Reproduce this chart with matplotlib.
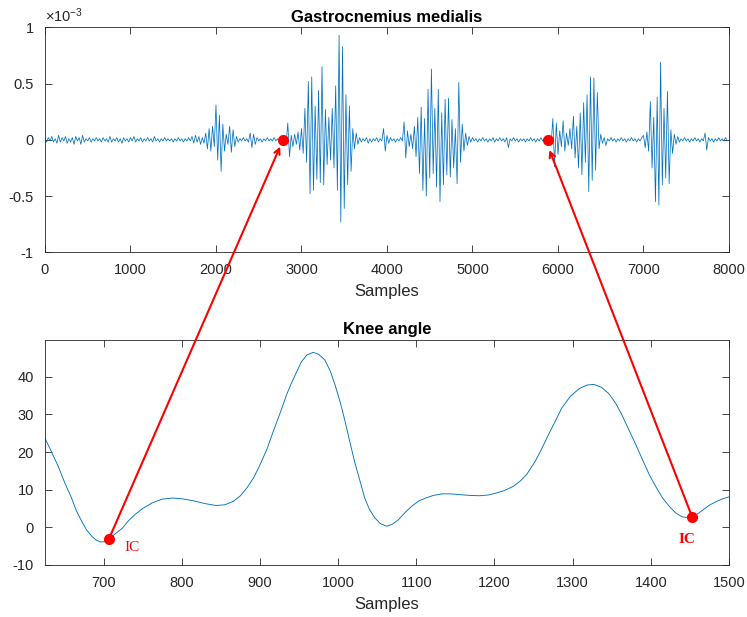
import numpy as np
import matplotlib.pyplot as plt
from matplotlib.patches import ConnectionPatch

plt.rcParams['font.family'] = ['Liberation Sans', 'DejaVu Sans']
plt.rcParams['axes.unicode_minus'] = False
plt.rcParams['mathtext.default'] = 'regular'

# EMG (gastrocnemius medialis), one value every 20 samples, units of 1e-5
emg_step = 20
emg_vals = [
    1, -2, 2, -1, 3, -2, 1, -3, 4, -2, 2, -1, 3, -3, 1, -2, 2, -4, 3, -1,
    2, -4, 4, -2, 1, -1, 2, -2, 1, -1, 2, -1, 1, -2, 2, -1, 1, -2, 3, -2,
    1, -1, 2, -2, 1, -3, 2, -1, 1, -2, 2, -1, 3, -2, 1, -1, 2, -2, 1, -1,
    2, -1, 1, -2, 3, -1, 1, -2, 1, -1, 2, -1, 1, -1, 1, -2, 1, -1, 2, -1,
    1, -2, 1, -1, 2, -1, 3, -3, 4, -2, 3, -4, 2, -3, 6, -8, 10, -10, 12, -6,
    31, -18, 22, -28, 14, -10, 5, -4, 12, -11, 9, -6, 3, -2, 1, -1, 2, -1, 1, -2,
    6, -7, 5, -4, 2, -1, 1, -2, 1, -1, 2, -1, 1, -1, 2, -1, 1, -2, 1, -1,
    3, -4, 15, -15, 4, -6, 5, -4, 7, -9, 10, -12, 28, -20, 52, -48, 56, -45, 30, -35,
    44, -38, 65, -40, 27, -22, 20, -18, 28, -25, 48, -45, 93, -73, 83, -61, 40, -40, 30, -28,
    10, -8, 6, -4, 2, -2, 1, -1, 2, -3, 1, -2, 1, -1, 2, -2, 1, -1, 10, -10,
    4, -3, 2, -1, 1, -2, 1, -1, 2, -1, 16, -16, 8, -6, 5, -8, 12, -15, 20, -30,
    29, -45, 19, -50, 45, -34, 63, -30, 28, -42, 45, -55, 24, -40, 36, -31, 37, -33, 18, -25,
    10, -39, 51, -20, 14, -10, 6, -5, 3, -2, 2, -1, 1, -2, 1, -1, 2, -1, 1, -2,
    1, -1, 2, -2, 1, -1, 2, -1, 1, -2, 2, -7, 1, -1, 2, -1, 1, -2, 1, -1,
    1, -2, 1, -1, 2, -1, 1, -2, 1, -1, 2, -1, 1, -2, 1, -1, -3, 19, -24, 15,
    -13, 8, -6, 17, -10, 6, -5, 10, -8, 21, -16, 12, -25, 24, -31, 33, -20, 40, -46, 56,
    -36, 55, -27, 42, -8, 5, -3, 2, -5, 1, -1, 2, -1, 1, -2, 1, -1, 2, -1, 1,
    -2, 1, -1, 2, -1, 1, -2, 1, -1, 2, 4, -7, 7, -10, 34, -25, 20, -55, 38, -58,
    69, -40, 28, -34, 43, -39, 9, -12, 5, -4, 3, -2, 1, -1, 2, -1, 1, -2, 1, -1,
    2, -1, 1, -2, 1, -1, 6, -9, 2, -1, 1, -2, 1, -1, 2, -1, 1, -1, 2, -1,
]

# knee angle (deg)
knee_x = [625, 633, 642, 650, 659, 665, 672, 678, 685, 690, 696, 701, 707, 715,
          724, 732, 740, 750, 762, 775, 788, 800, 814, 830, 844, 855, 866, 875,
          883, 892, 900, 909, 917, 926, 934, 940, 946, 953, 960, 968, 975, 983,
          990, 996, 1003, 1009, 1015, 1021, 1028, 1034, 1040, 1047, 1054, 1062,
          1069, 1077, 1085, 1094, 1103, 1112, 1122, 1133, 1144, 1155, 1168,
          1181, 1192, 1202, 1213, 1224, 1233, 1241, 1252, 1260, 1269, 1278,
          1286, 1297, 1308, 1318, 1327, 1337, 1346, 1355, 1363, 1372, 1381,
          1390, 1398, 1407, 1415, 1424, 1432, 1440, 1447, 1453, 1460, 1467,
          1475, 1484, 1492, 1500]
knee_y = [23.7, 20.2, 16.2, 12.0, 7.8, 4.5, 1.6, -0.6, -2.4, -3.3, -3.9, -3.8,
          -3.0, -1.7, -0.2, 1.8, 3.4, 5.0, 6.5, 7.5, 7.8, 7.6, 7.1, 6.3, 5.8,
          6.0, 6.9, 8.4, 10.4, 13.2, 16.6, 20.8, 25.5, 30.5, 35.2, 38.2, 40.9,
          44.0, 45.8, 46.5, 46.0, 44.5, 41.5, 37.9, 33.0, 28.1, 22.7, 17.5,
          12.3, 7.8, 4.8, 2.5, 1.0, 0.3, 0.8, 2.0, 3.8, 5.6, 7.0, 7.8, 8.5,
          8.9, 8.9, 8.7, 8.5, 8.4, 8.6, 9.1, 9.8, 10.9, 12.3, 14.0, 17.5, 20.7,
          24.6, 28.3, 31.7, 34.8, 36.8, 37.8, 38.0, 37.2, 35.6, 33.0, 29.9,
          25.9, 21.9, 17.7, 14.0, 10.6, 7.8, 5.5, 3.8, 2.8, 2.6, 2.7, 3.6, 4.7,
          5.9, 6.9, 7.6, 8.1]

# initial contact events: EMG sample <-> knee sample
ic_emg_x = [2780, 5880]
ic_knee_x = [707, 1453]
ic_knee_y = [-3.0, 2.7]
arrow_tip_x = [2750, 5900]
arrow_tip_y = [-0.06, -0.09]

blue = '#0072BD'
dark = '#262626'

emg_x = np.arange(len(emg_vals)) * emg_step
emg_y = np.array(emg_vals) / 100.0   # in units of 1e-3

fig = plt.figure(figsize=(7.47, 6.17), dpi=100)
ax1 = fig.add_axes([0.0602, 0.591, 0.9157, 0.3647])
ax2 = fig.add_axes([0.0602, 0.0843, 0.9157, 0.3647])

ax1.plot(emg_x, emg_y, color=blue, lw=0.55)
ax1.plot(ic_emg_x, [0, 0], 'o', color='red', ms=7, zorder=5)
ax1.set_xlim(0, 8000)
ax1.set_ylim(-1, 1)
ax1.set_yticks([-1, -0.5, 0, 0.5, 1])
ax1.set_yticklabels(['-1', '-0.5', '0', '0.5', '1'])
ax1.set_xticks(range(0, 8001, 1000))
ax1.set_title('Gastrocnemius medialis', fontsize=12, fontweight='bold', pad=4)
ax1.set_xlabel('Samples', fontsize=12, color=dark, labelpad=5)
ax1.text(0.0, 1.012, r'$\times10^{-3}$', transform=ax1.transAxes,
         fontsize=10.5, color=dark, ha='left', va='bottom')

ax2.plot(knee_x, knee_y, color=blue, lw=0.65)
ax2.plot(ic_knee_x, ic_knee_y, 'o', color='red', ms=7, zorder=5)
ax2.set_xlim(625, 1500)
ax2.set_ylim(-10, 49.8)
ax2.set_yticks([-10, 0, 10, 20, 30, 40])
ax2.set_xticks(range(700, 1501, 100))
ax2.set_title('Knee angle', fontsize=12, fontweight='bold', pad=4)
ax2.set_xlabel('Samples', fontsize=12, color=dark, labelpad=5)
ax2.text(726, -5.4, 'IC', color='red', fontsize=11, family='Liberation Serif',
         ha='left', va='center')
ax2.text(1435, -3.3, 'IC', color='red', fontsize=11, family='Liberation Serif',
         fontweight='bold', ha='left', va='center')

for ax in (ax1, ax2):
    ax.tick_params(direction='in', length=5, top=True, right=True,
                   labelsize=10.5, colors=dark, width=0.6)
    ax.tick_params(axis='x', pad=8)
    ax.tick_params(axis='y', pad=8)
    for s in ax.spines.values():
        s.set_color(dark)
        s.set_linewidth(0.6)

for i in range(2):
    con = ConnectionPatch(xyA=(ic_knee_x[i], ic_knee_y[i]), coordsA=ax2.transData,
                          xyB=(arrow_tip_x[i], arrow_tip_y[i]), coordsB=ax1.transData,
                          arrowstyle='->', color='red', lw=1.5,
                          mutation_scale=10, shrinkA=0, shrinkB=0)
    fig.add_artist(con)

fig.savefig('out.png', dpi=100)
